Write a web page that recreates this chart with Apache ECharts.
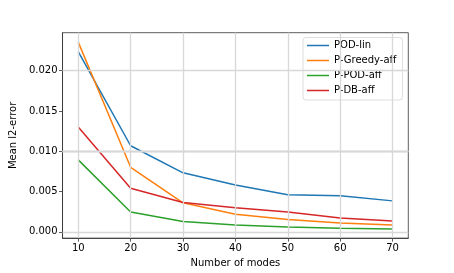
<!DOCTYPE html>
<html>
<head>
<meta charset="utf-8">
<script src="https://cdn.jsdelivr.net/npm/echarts@6/dist/echarts.min.js"></script>
<style>
html,body{margin:0;padding:0;background:#fff;}
#chart{width:454px;height:273px;}
</style>
</head>
<body>
<div id="chart"></div>
<script>
const modes = [10, 20, 30, 40, 50, 60, 70];
const podLin = [0.02237, 0.01068, 0.00732, 0.00582, 0.00461, 0.00449, 0.00384];
const pGreedyAff = [0.02354, 0.00801, 0.00360, 0.00218, 0.00153, 0.00109, 0.00085];
const pPodAff = [0.00893, 0.00246, 0.00129, 0.00085, 0.00060, 0.00044, 0.00036];
const pDbAff = [0.01302, 0.00541, 0.00364, 0.00299, 0.00246, 0.00170, 0.00133];
const xTicks = [10, 20, 30, 40, 50, 60, 70];
const yTicks = [0, 0.005, 0.010, 0.015, 0.020];
const seriesNames = ['POD-lin', 'P-Greedy-aff', 'P-POD-aff', 'P-DB-aff'];
const seriesData = [podLin, pGreedyAff, pPodAff, pDbAff];
const colors = ['#1f77b4', '#ff7f0e', '#2ca02c', '#d62728'];

const font = 'DejaVu Sans';
const chart = echarts.init(document.getElementById('chart'), null, {renderer: 'canvas'});
const series = seriesNames.map((n, i) => ({
  name: n,
  type: 'line',
  data: modes.map((m, j) => [m, seriesData[i][j]]),
  symbol: 'none',
  lineStyle: {width: 1.5, color: colors[i]},
  itemStyle: {color: colors[i]},
  animation: false,
  z: 3
}));
chart.setOption({
  animation: false,
  textStyle: {fontFamily: font},
  grid: {left: 56.5, right: 45.7, top: 32.7, bottom: 30.3, show: true, borderColor: '#333', borderWidth: 0.8, backgroundColor: 'transparent'},
  legend: {
    data: seriesNames.map(n => ({name: n, icon: 'rect'})),
    left: 303, top: 37.5,
    orient: 'vertical',
    itemWidth: 22, itemHeight: 1.5, itemGap: 0,
    padding: [0.5, 6, 2, 4],
    borderColor: '#d5d5d5', borderWidth: 0.8, borderRadius: 3,
    backgroundColor: 'rgba(255,255,255,0.8)',
    textStyle: {fontFamily: font, fontSize: 10, color: '#000', lineHeight: 15}
  },
  xAxis: {
    type: 'value', min: 7, max: 73,
    name: 'Number of modes', nameLocation: 'middle', nameGap: 16,
    nameTextStyle: {fontFamily: font, fontSize: 10, color: '#000'},
    axisLine: {show: true, onZero: false, lineStyle: {color: '#333', width: 0.8}},
    axisTick: {show: true, length: 3.5, customValues: xTicks, lineStyle: {color: '#333', width: 0.8}},
    axisLabel: {customValues: xTicks, fontFamily: font, fontSize: 10, color: '#000', margin: 5},
    splitLine: {show: false}
  },
  yAxis: {
    type: 'value', min: -0.00078, max: 0.02471,
    name: 'Mean l2-error', nameLocation: 'middle', nameGap: 33, nameRotate: 90,
    nameTextStyle: {fontFamily: font, fontSize: 10, color: '#000'},
    axisLine: {show: true, onZero: false, lineStyle: {color: '#333', width: 0.8}},
    axisTick: {show: true, length: 3.5, customValues: yTicks, lineStyle: {color: '#333', width: 0.8}},
    axisLabel: {customValues: yTicks, fontFamily: font, fontSize: 10, color: '#000', margin: 5,
      formatter: v => v.toFixed(3)},
    splitLine: {show: false}
  },
  series: series.concat([{
    type: 'line', data: [], silent: true, z: 1,
    markLine: {
      silent: true, symbol: 'none', label: {show: false}, animation: false,
      lineStyle: {color: '#d8d8d8', width: 1.3, type: 'solid'},
      data: xTicks.map(v => ({xAxis: v})).concat(yTicks.map(v => ({yAxis: v})))
    }
  }])
});
</script>
</body>
</html>
